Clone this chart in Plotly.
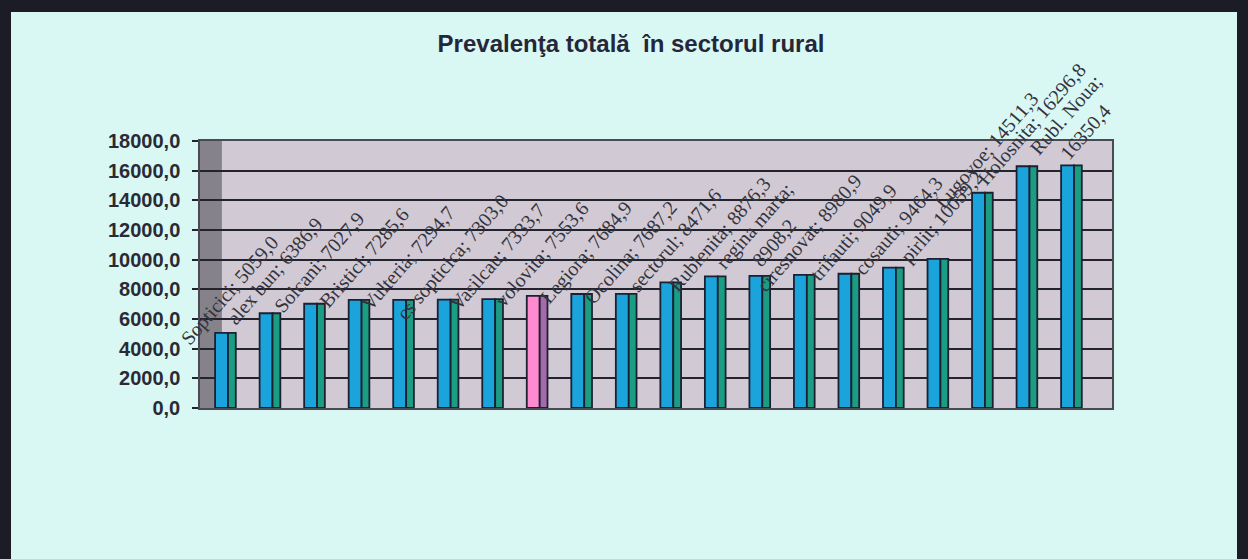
import plotly.graph_objects as go

# ---- data ----
villages = ["Sopticici", "alex bun", "Solcani", "Bristici", "Vulteria", "cs sopticica",
            "Vasilcau", "volovita", "Legiora", "Ocolina", "sectorul", "Rublenita",
            "regina marta", "ciresnovat", "trifauti", "cosauti", "pirlit", "Lugovoe",
            "Holosnita", "Rubl. Noua"]
prevalence = [5059.0, 6386.9, 7027.9, 7285.6, 7294.7, 7303.0, 7333.7, 7553.6, 7684.9,
              7687.2, 8471.6, 8876.3, 8908.2, 8980.9, 9049.9, 9464.3, 10059.2, 14511.3,
              16296.8, 16350.4]
highlighted = ["volovita"]
wrapped = ["regina marta", "Rubl. Noua"]
y_ticks = [0, 2000, 4000, 6000, 8000, 10000, 12000, 14000, 16000, 18000]
y_tick_text = ["0,0", "2000,0", "4000,0", "6000,0", "8000,0", "10000,0",
               "12000,0", "14000,0", "16000,0", "18000,0"]
title_text = "Prevalenţa totală  în sectorul rural"

# ---- styling ----
W, H = 1248, 559
L, R, T, B = 200, 1248 - 1112, 141, 559 - 408
front = ["#ff8ad0" if v in highlighted else "#1ba3dc" for v in villages]
side = ["#a56aab" if v in highlighted else "#1b9d84" for v in villages]
outline = "#1b2133"

fig = go.Figure()
fig.add_trace(go.Bar(x=villages, y=prevalence, width=0.29, offset=-0.245,
                     marker=dict(color=front, line=dict(color=outline, width=1.8)),
                     showlegend=False, hoverinfo="x+y"))
fig.add_trace(go.Bar(x=villages, y=prevalence, width=0.175, offset=0.045,
                     marker=dict(color=side, line=dict(color=outline, width=1.8)),
                     showlegend=False, hoverinfo="skip"))

def fmt(v):
    return f"{v:.1f}".replace(".", ",")

for name, v in zip(villages, prevalence):
    sep = ";<br>" if name in wrapped else "; "
    fig.add_annotation(x=name, y=v, text=name + sep + fmt(v), showarrow=False,
                       textangle=-49, xanchor="center", yanchor="middle",
                       xshift=4, yshift=42,
                       font=dict(family="Liberation Serif", size=20, color="#33333d"))

# left dark wall
fig.add_shape(type="rect", xref="x domain", yref="y domain", x0=0, x1=0.024, y0=0, y1=1,
              fillcolor="#86828a", line=dict(width=0), layer="below")

# outer dark frame
def px_x(p):
    return (p - L) / (W - L - R)

def px_y(p):
    return (H - B - p) / (H - T - B)

fig.add_shape(type="rect", xref="paper", yref="paper",
              x0=px_x(5), x1=px_x(1243), y0=px_y(600), y1=px_y(6),
              line=dict(color="#1c1c26", width=12), fillcolor="rgba(0,0,0,0)")

fig.update_layout(
    width=W, height=H,
    margin=dict(l=L, r=R, t=T, b=B),
    paper_bgcolor="#d9f7f3",
    plot_bgcolor="#d1cad4",
    barmode="overlay",
    title=dict(text=title_text, x=631 / W, xref="container", xanchor="center",
               y=1 - 44 / H, yref="container", yanchor="middle",
               font=dict(family="Liberation Sans", size=24, weight="bold", color="#26263a")),
    xaxis=dict(range=[-0.584, 19.898], showticklabels=False, ticks="", showgrid=False,
               showline=True, linecolor="#4a4a55", linewidth=1.5, mirror=True),
    yaxis=dict(range=[0, 18000], tickvals=y_ticks, ticktext=y_tick_text,
               showgrid=True, gridcolor="#23232e", gridwidth=2,
               ticks="outside", ticklen=6, tickcolor="#23232e", tickwidth=2,
               showline=True, linecolor="#4a4a55", linewidth=1.5, mirror=True,
               zeroline=False, ticklabelstandoff=8,
               tickfont=dict(family="Liberation Sans", size=20, weight="bold", color="#2a2a35")),
)

fig.write_html("out.html", config={"displayModeBar": False},
               post_script="document.body.style.margin='0';document.body.style.overflow='hidden';")
